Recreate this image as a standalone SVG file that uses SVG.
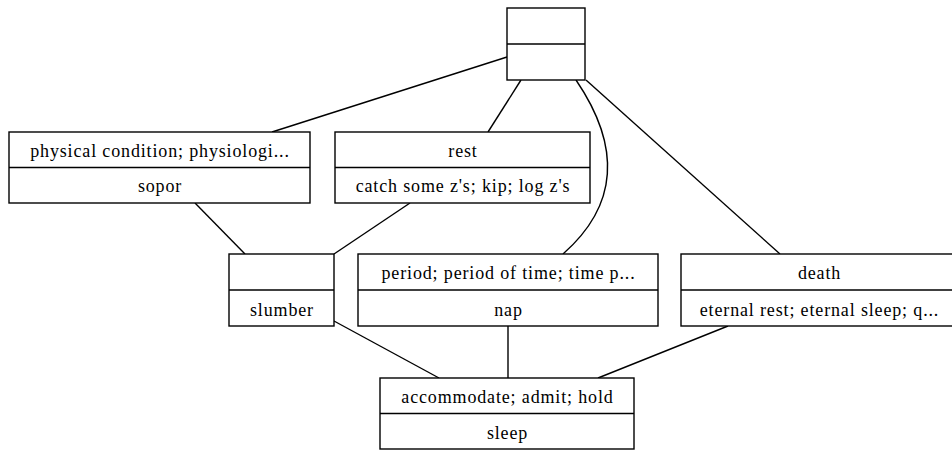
<svg xmlns="http://www.w3.org/2000/svg" width="952" height="450" viewBox="0 0 952 450">
<style>
.box{fill:#fff;stroke:#000;stroke-width:1.4}
.div{stroke:#000;stroke-width:1.4}
.e{fill:none;stroke:#000;stroke-width:1.4}
.t{font-family:'Liberation Serif','DejaVu Serif','Times New Roman',serif;font-size:18px;letter-spacing:0.85px;text-anchor:middle;fill:#000}
</style>
<rect width="952" height="450" fill="#fff"/>
<g id="edges">
<path class="e" d="M507,57 L272,132"/>
<path class="e" d="M521,80 L488,132"/>
<path class="e" d="M576,80 C610,130 630,195 563,254"/>
<path class="e" d="M586,80 L780,254"/>
<path class="e" d="M195,203 L245,254"/>
<path class="e" d="M410,203 L334,254"/>
<path class="e" d="M334,321 L439,378"/>
<path class="e" d="M508,326 L508,378"/>
<path class="e" d="M728,326 L598,378"/>
</g>
<g id="n_top">
<rect class="box" x="507" y="8" width="78" height="72"/>
<line class="div" x1="507" y1="44" x2="585" y2="44"/>
</g>
<g id="n_physical">
<rect class="box" x="9" y="132" width="301" height="71"/>
<line class="div" x1="9" y1="167.5" x2="310" y2="167.5"/>
<text class="t" x="160" y="157">physical condition; physiologi...</text>
<text class="t" x="160" y="192">sopor</text>
</g>
<g id="n_rest">
<rect class="box" x="335" y="132" width="255" height="71"/>
<line class="div" x1="335" y1="167.5" x2="590" y2="167.5"/>
<text class="t" x="463" y="157">rest</text>
<text class="t" x="463" y="192">catch some z's; kip; log z's</text>
</g>
<g id="n_slumber">
<rect class="box" x="229" y="254" width="105" height="72"/>
<line class="div" x1="229" y1="290" x2="334" y2="290"/>
<text class="t" x="282" y="316">slumber</text>
</g>
<g id="n_period">
<rect class="box" x="358" y="254" width="300" height="72"/>
<line class="div" x1="358" y1="290" x2="658" y2="290"/>
<text class="t" x="508.5" y="279">period; period of time; time p...</text>
<text class="t" x="508.5" y="316">nap</text>
</g>
<g id="n_death">
<rect class="box" x="681" y="254" width="276" height="72"/>
<line class="div" x1="681" y1="290" x2="957" y2="290"/>
<text class="t" x="819.5" y="279">death</text>
<text class="t" x="819.5" y="316">eternal rest; eternal sleep; q...</text>
</g>
<g id="n_sleep">
<rect class="box" x="380" y="378" width="254" height="71"/>
<line class="div" x1="380" y1="413.5" x2="634" y2="413.5"/>
<text class="t" x="507.5" y="403">accommodate; admit; hold</text>
<text class="t" x="507.5" y="439">sleep</text>
</g>
</svg>
